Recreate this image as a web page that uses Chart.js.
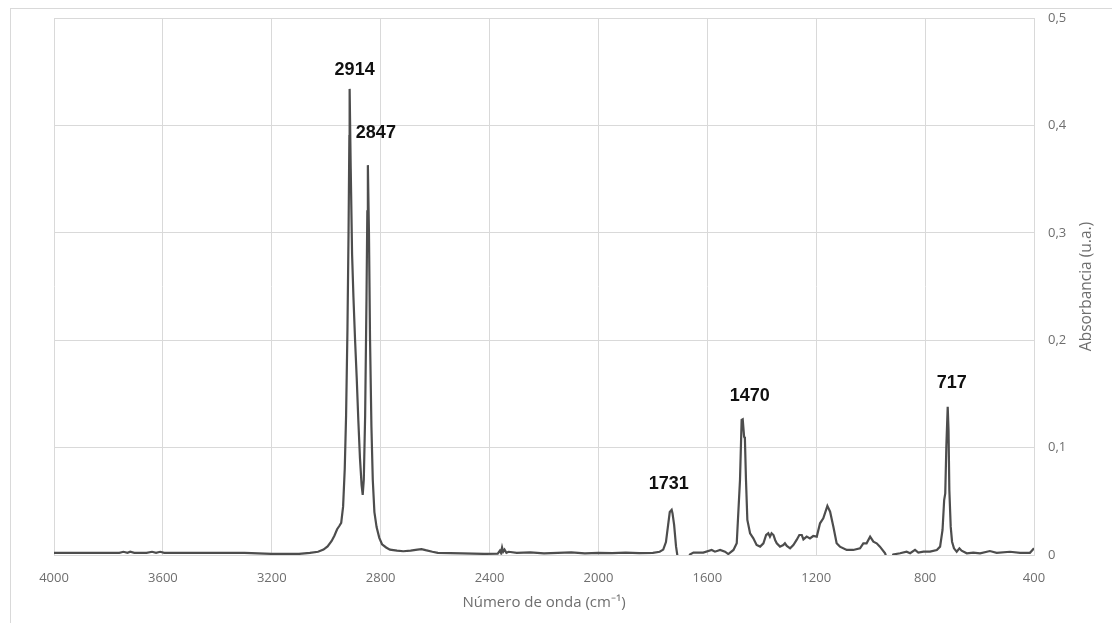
<!DOCTYPE html>
<html>
<head>
<meta charset="utf-8">
<title>Espectro FTIR</title>
<script src="https://cdn.jsdelivr.net/npm/chart.js@4/dist/chart.umd.min.js"></script>
<style>
  html, body { margin: 0; padding: 0; background: #fff; }
  .wrap { width: 1112px; height: 623px; position: relative; }
</style>
</head>
<body>
<div class="wrap"><canvas id="spectrum"></canvas></div>
<script>
/* ------------------------------------------- */
/* DATA -------------------------------------- */
/* ------------------------------------------- */
let wavenumbers = [
  4000, 3900, 3800, 3760, 3745, 3730, 3720, 3705, 3660, 3640, 3625, 3610, 3595, 3500, 3400, 3300, 3200, 3100,
  3060, 3030, 3010, 2995, 2980, 2970, 2960, 2952, 2945, 2938, 2932, 2927, 2922, 2918, 2915, 2914, 2910, 2905,
  2900, 2894, 2888, 2882, 2876, 2870, 2866, 2862, 2857, 2852, 2849, 2847, 2843, 2839, 2834, 2829, 2823, 2815,
  2805, 2795, 2780, 2766, 2740, 2717, 2690, 2665, 2650, 2635, 2610, 2590, 2500, 2420, 2370, 2362, 2358, 2354,
  2350, 2345, 2338, 2330, 2300, 2250, 2200, 2150, 2100, 2050, 2000, 1950, 1900, 1850, 1800, 1775, 1762, 1752,
  1744, 1738, 1731, 1728, 1722, 1715, 1708, 1700, 1680, 1668, 1664, 1651, 1615, 1584, 1572, 1553, 1535, 1523,
  1504, 1492, 1480, 1474, 1470, 1465, 1462, 1458, 1453, 1443, 1431, 1419, 1406, 1394, 1384, 1376, 1370, 1364,
  1357, 1351, 1345, 1333, 1321, 1315, 1308, 1296, 1284, 1272, 1262, 1253, 1247, 1235, 1223, 1211, 1198, 1186,
  1174, 1159, 1149, 1137, 1125, 1113, 1088, 1064, 1039, 1027, 1015, 1002, 990, 978, 966, 947, 939, 929,
  921, 917, 892, 868, 855, 837, 825, 806, 782, 757, 745, 736, 730, 726, 722, 717, 714, 711,
  706, 701, 694, 684, 674, 666, 647, 623, 598, 562, 537, 488, 451, 415, 408, 400
];
let absorbance = [
  0.002, 0.002, 0.002, 0.002, 0.003, 0.002, 0.003, 0.002, 0.002, 0.003, 0.002, 0.003, 0.002, 0.002, 0.002, 0.002, 0.001, 0.001,
  0.002, 0.003, 0.005, 0.008, 0.013, 0.018, 0.024, 0.027, 0.030, 0.045, 0.080, 0.130, 0.210, 0.300, 0.390, 0.434, 0.360, 0.280,
  0.240, 0.200, 0.165, 0.125, 0.090, 0.065, 0.056, 0.070, 0.130, 0.240, 0.320, 0.363, 0.300, 0.200, 0.120, 0.070, 0.040, 0.026,
  0.016, 0.010, 0.007, 0.005, 0.004, 0.0035, 0.004, 0.005, 0.0055, 0.0045, 0.003, 0.002, 0.0015, 0.001, 0.0012, 0.004, 0.002, 0.007,
  0.003, 0.005, 0.002, 0.003, 0.002, 0.0025, 0.0015, 0.002, 0.0025, 0.0015, 0.002, 0.0018, 0.0022, 0.0018, 0.002, 0.003, 0.005, 0.012,
  0.028, 0.040, 0.042, 0.039, 0.028, 0.008, -0.004, -0.010, -0.010, -0.003, 0.0005, 0.0023, 0.0023, 0.0047, 0.0031, 0.0047, 0.0031, 0.0009,
  0.0047, 0.0109, 0.0698, 0.1257, 0.1263, 0.1102, 0.1086, 0.0698, 0.0326, 0.0202, 0.0155, 0.0093, 0.0078, 0.0109, 0.0186, 0.0202, 0.0171, 0.0202,
  0.0186, 0.014, 0.0109, 0.0078, 0.0093, 0.0109, 0.0084, 0.0062, 0.0093, 0.014, 0.0186, 0.0186, 0.0146, 0.0171, 0.0155, 0.0177, 0.0171, 0.0295,
  0.0341, 0.0456, 0.0403, 0.0264, 0.0109, 0.0078, 0.0047, 0.0047, 0.0062, 0.0109, 0.0109, 0.0171, 0.0124, 0.0109, 0.0078, 0.0016, -0.0046, -0.008,
  -0.002, 0.0005, 0.0016, 0.0031, 0.0016, 0.0047, 0.0023, 0.0031, 0.0031, 0.0047, 0.0078, 0.0233, 0.0512, 0.0574, 0.101, 0.138, 0.1164, 0.0605,
  0.0264, 0.0124, 0.0062, 0.0031, 0.0062, 0.004, 0.0016, 0.0022, 0.0016, 0.0037, 0.002, 0.003, 0.002, 0.002, 0.004, 0.0062
];

/* peak labels */
let peakLabels = ["2914", "2847", "1731", "1470", "717"];
let peakWavenumbers = [2914, 2847, 1731, 1470, 717];
let peakAbsorbance = [0.434, 0.363, 0.042, 0.126, 0.138];

/* axis ticks */
let xTicks = [4000, 3600, 3200, 2800, 2400, 2000, 1600, 1200, 800, 400];
let yTicks = [0, 0.1, 0.2, 0.3, 0.4, 0.5];

/* ------------------------------------------- */
/* PLUGINS ----------------------------------- */
/* ------------------------------------------- */
let gridColor = '#d9d9d9';
let textColor = '#6e6e6e';

// label shift in px from the peak top (dx, dy)
let labelShift = [[5, -19], [8, -32], [-3, -26], [7, -24], [4, -24]];

let framePlugin = {
  id: 'frame',
  beforeDraw(chart) {
    let ctx = chart.ctx;
    ctx.save();
    ctx.strokeStyle = gridColor;
    ctx.lineWidth = 1;
    ctx.strokeRect(10.5, 8.5, chart.width + 20, chart.height + 20);
    ctx.restore();
  }
};

let peakLabelPlugin = {
  id: 'peakLabels',
  afterDatasetsDraw(chart) {
    let ctx = chart.ctx;
    let xs = chart.scales.x;
    let ys = chart.scales.y;
    ctx.save();
    ctx.font = "bold 18px 'Liberation Sans', Arial, sans-serif";
    ctx.fillStyle = '#111';
    ctx.textAlign = 'center';
    ctx.textBaseline = 'middle';
    for (let i = 0; i < peakLabels.length; i++) {
      let px = xs.getPixelForValue(peakWavenumbers[i]) + labelShift[i][0];
      let py = ys.getPixelForValue(peakAbsorbance[i]) + labelShift[i][1];
      ctx.fillText(peakLabels[i], px, py);
    }
    ctx.restore();
  }
};

let yTitlePlugin = {
  id: 'yTitle',
  afterDraw(chart) {
    let ctx = chart.ctx;
    let area = chart.chartArea;
    ctx.save();
    ctx.translate(1087, (area.top + area.bottom) / 2);
    ctx.rotate(-Math.PI / 2);
    ctx.font = "15.5px 'Open Sans', sans-serif";
    ctx.fillStyle = textColor;
    ctx.textAlign = 'center';
    ctx.textBaseline = 'middle';
    ctx.fillText('Absorbancia (u.a.)', 0, 0);
    ctx.restore();
  }
};

/* ------------------------------------------- */
/* CHART ------------------------------------- */
/* ------------------------------------------- */
let points = wavenumbers.map((w, i) => ({ x: w, y: absorbance[i] }));

let spectrumCont = document.getElementById('spectrum').getContext('2d');
let spectrumChart = new Chart(spectrumCont, {
  type: 'line',
  data: {
    datasets: [{
      label: 'Absorbancia',
      data: points,
      borderColor: '#4d4d4d',
      borderWidth: 2.2,
      pointRadius: 0,
      tension: 0,
      fill: false,
    }]
  },
  options: {
    responsive: true,
    maintainAspectRatio: false,
    animation: false,
    layout: {
      padding: { left: 54, top: 18, right: 0, bottom: 0 }
    },
    plugins: {
      legend: { display: false },
      tooltip: { enabled: false },
    },
    scales: {
      x: {
        type: 'linear',
        reverse: true,
        min: 400,
        max: 4000,
        afterBuildTicks: (scale) => { scale.ticks = xTicks.map(v => ({ value: v })); },
        afterFit: (scale) => {
          scale.height = 68;
          scale.paddingLeft = 0;
          scale.paddingRight = 0;
        },
        grid: { color: gridColor, drawTicks: false },
        border: { color: gridColor },
        ticks: {
          color: textColor,
          font: { family: 'Open Sans', size: 13 },
          padding: 15,
          maxRotation: 0,
          autoSkip: false,
          callback: (v) => String(v),
        },
        title: {
          display: true,
          text: 'Número de onda (cm⁻¹)',
          color: textColor,
          font: { family: 'Open Sans', size: 15 },
          padding: { top: 0, bottom: 11 },
        }
      },
      y: {
        position: 'right',
        min: 0,
        max: 0.5,
        afterBuildTicks: (scale) => { scale.ticks = yTicks.map(v => ({ value: v })); },
        afterFit: (scale) => {
          scale.width = 78;
          scale.paddingTop = 0;
          scale.paddingBottom = 0;
        },
        grid: { color: gridColor, drawTicks: false },
        border: { color: gridColor },
        ticks: {
          color: textColor,
          font: { family: 'Open Sans', size: 13 },
          padding: 14,
          callback: (v) => v == 0 ? '0' : (Math.round(v * 10) / 10).toFixed(1).replace('.', ','),
        }
      }
    }
  },
  plugins: [framePlugin, peakLabelPlugin, yTitlePlugin]
});
</script>
</body>
</html>
